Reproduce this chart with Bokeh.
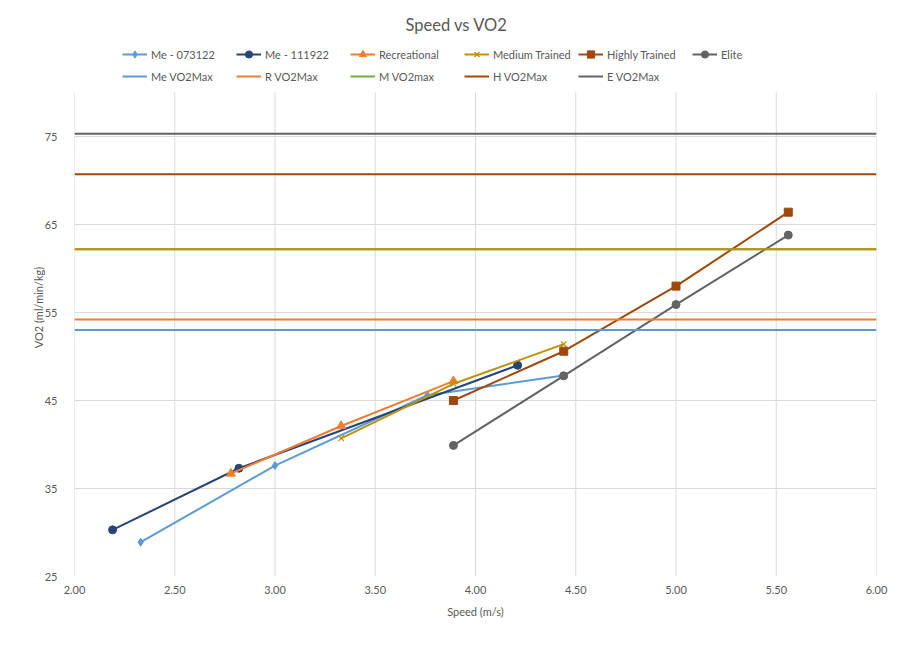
from bokeh.plotting import figure
from bokeh.models import Range1d, FixedTicker, NumeralTickFormatter, Legend, LegendItem
from bokeh.embed import file_html
from bokeh.resources import INLINE

title_text = "Speed vs VO2"
x_label = "Speed (m/s)"
y_label = "VO2 (ml/min/kg)"

x_min, x_max = 2.0, 6.0
y_min, y_max = 25, 80
x_ticks = [2.0, 2.5, 3.0, 3.5, 4.0, 4.5, 5.0, 5.5, 6.0]
y_ticks = [25, 35, 45, 55, 65, 75]

me1_speed = [2.33, 3.00, 3.76, 4.43]
me1_vo2 = [28.9, 37.6, 45.6, 47.8]

me2_speed = [2.19, 2.82, 4.21]
me2_vo2 = [30.3, 37.3, 49.0]

rec_speed = [2.78, 3.33, 3.89]
rec_vo2 = [36.7, 42.1, 47.2]

med_speed = [3.33, 3.89, 4.44]
med_vo2 = [40.7, 46.9, 51.4]

ht_speed = [3.89, 4.44, 5.00, 5.56]
ht_vo2 = [45.0, 50.6, 58.0, 66.4]

el_speed = [3.89, 4.44, 5.00, 5.56]
el_vo2 = [39.9, 47.8, 55.9, 63.8]

hline_speed = [2.0, 6.0]
me_vo2max = 53.0
r_vo2max = 54.2
m_vo2max = 62.2
h_vo2max = 70.7
e_vo2max = 75.3

FONT = "Lato"
TXT = "#595959"
GRID = "#D9D9D9"

W, H = 917, 648
LEFT, RIGHT, TOP, BOTTOM = 74, 41, 38, 72
plot_h = H - TOP - BOTTOM
px_per_unit = 8.8
y_top = y_min + plot_h / px_per_unit   # frame extends above 80 to hold the legend

p = figure(width=W, height=H, output_backend="svg", toolbar_location=None,
           x_range=Range1d(x_min, x_max), y_range=Range1d(y_min, y_top),
           min_border_left=LEFT, min_border_right=RIGHT, min_border_top=TOP, min_border_bottom=BOTTOM)
p.background_fill_color = "white"
p.border_fill_color = "white"
p.outline_line_color = None

p.title.text = title_text
p.title.align = "left"
p.title.offset = 331
p.title.text_font = FONT
p.title.text_font_size = "16.5px"
p.title.text_font_style = "normal"
p.title.text_color = TXT
p.title.standoff = 8

for ax in (p.xaxis[0], p.yaxis[0]):
    ax.axis_line_color = None
    ax.major_tick_line_color = None
    ax.minor_tick_line_color = None
    ax.major_label_text_font = FONT
    ax.major_label_text_font_size = "11px"
    ax.major_label_text_color = TXT
    ax.axis_label_text_font = FONT
    ax.axis_label_text_font_size = "11px"
    ax.axis_label_text_font_style = "normal"
    ax.axis_label_text_color = TXT

p.xaxis[0].ticker = FixedTicker(ticks=x_ticks)
p.xaxis[0].formatter = NumeralTickFormatter(format="0.00")
p.xaxis[0].axis_label = x_label
p.xaxis[0].major_label_standoff = 3
p.xaxis[0].axis_label_standoff = 8
p.yaxis[0].ticker = FixedTicker(ticks=y_ticks)
p.yaxis[0].bounds = (y_min, 83)
p.yaxis[0].axis_label = y_label
p.yaxis[0].major_label_standoff = 11
p.yaxis[0].axis_label_standoff = -3

p.xgrid[0].grid_line_color = None
p.ygrid[0].ticker = FixedTicker(ticks=y_ticks)
p.ygrid[0].grid_line_color = GRID

# vertical gridlines, only up to the top of the value range
p.segment(x0=x_ticks, y0=[y_min] * len(x_ticks), x1=x_ticks, y1=[y_max] * len(x_ticks),
          line_color=GRID, line_width=1)

LW = 2
row1 = []
row2 = []

def series(label, xs, ys, color, marker, size):
    l = p.line(xs, ys, line_color=color, line_width=LW)
    kw = dict(marker=marker, size=size, fill_color=color, line_color=color)
    if marker == "x":
        kw["line_width"] = 1.2
    s = p.scatter(xs, ys, **kw)
    row1.append(LegendItem(label=label, renderers=[l, s]))

series("Me - 073122", me1_speed, me1_vo2, "#5B9BD5", "diamond", 8)
series("Me - 111922", me2_speed, me2_vo2, "#264478", "circle", 8)
series("Recreational", rec_speed, rec_vo2, "#ED7D31", "triangle", 9)
series("Medium Trained", med_speed, med_vo2, "#BF9000", "x", 8)
series("Highly Trained", ht_speed, ht_vo2, "#9E480E", "square", 8)
series("Elite", el_speed, el_vo2, "#636363", "circle", 8)

def hline(label, v, color, draw_color=None):
    l = p.line(hline_speed, [v, v], line_color=color, line_width=LW)
    row2.append(LegendItem(label=label, renderers=[l]))
    if draw_color:
        p.line(hline_speed, [v, v], line_color=draw_color, line_width=LW)

hline("Me VO2Max", me_vo2max, "#5B9BD5")
hline("R VO2Max", r_vo2max, "#ED7D31")
hline("M VO2max", m_vo2max, "#70AD47", draw_color="#BF9000")
hline("H VO2Max", h_vo2max, "#9E480E")
hline("E VO2Max", e_vo2max, "#636363")

def make_legend(items, loc):
    return Legend(items=items, orientation="horizontal",
                  location=loc, border_line_color=None, background_fill_alpha=0,
                  label_text_font=FONT, label_text_font_size="11px", label_text_color=TXT,
                  glyph_width=25, glyph_height=18, label_standoff=4, label_width=82,
                  spacing=3, padding=0, margin=0, label_height=18)

p.add_layout(make_legend(row1, (48, 513)))
p.add_layout(make_legend(row2, (48, 491)))

open("out.html", "w").write(file_html(p, INLINE))
